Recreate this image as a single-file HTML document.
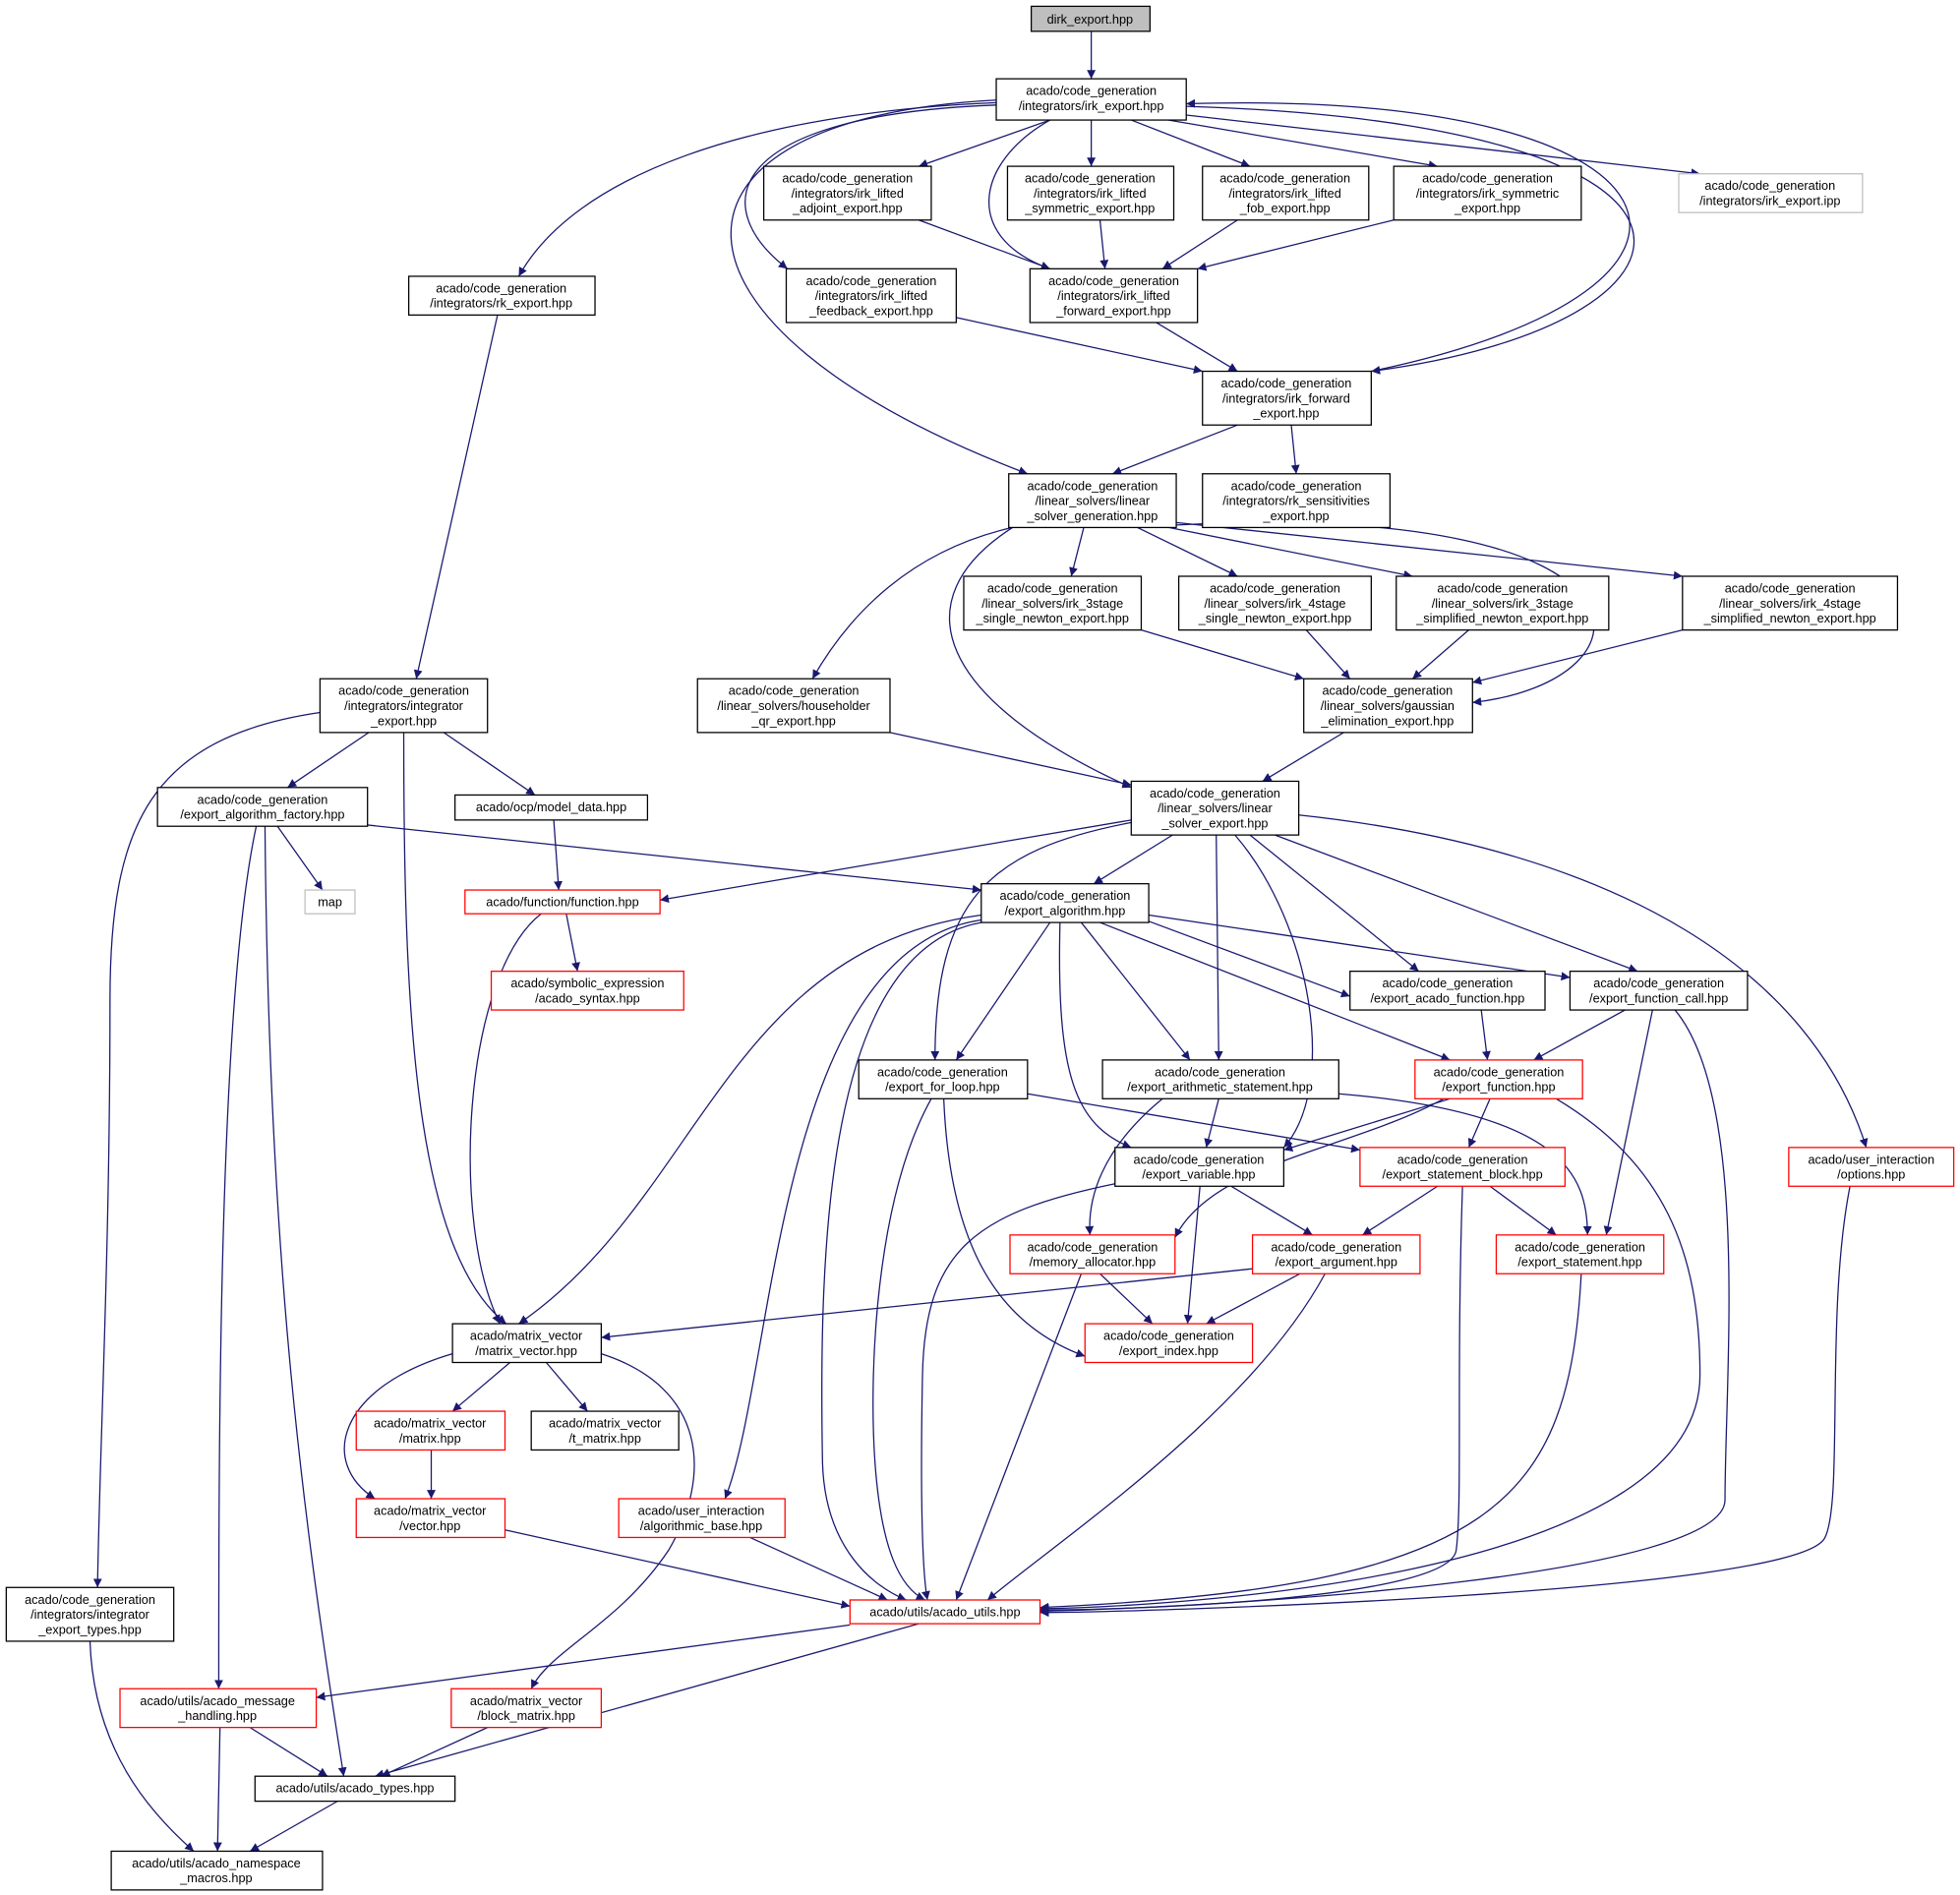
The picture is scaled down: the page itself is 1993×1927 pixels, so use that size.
<!DOCTYPE html>
<html><head><meta charset="utf-8"><style>
html,body{margin:0;padding:0;background:#fff;}
svg{display:block;}
text{font-family:"Liberation Sans","DejaVu Sans",sans-serif;font-size:10px;fill:#000;text-anchor:middle;}
.n{fill:#fff;stroke:#000;stroke-width:1;}
.r{fill:#fff;stroke:#f00;stroke-width:1;}
.g{fill:#fff;stroke:#bfbfbf;stroke-width:1;}
.e{fill:none;stroke:#191970;stroke-width:1;marker-end:url(#a);}
</style></head><body>
<svg width="1993" height="1927" viewBox="0 0 1568 1516" xmlns="http://www.w3.org/2000/svg">
<defs><marker id="a" viewBox="0 0 10 10" refX="10" refY="5" markerWidth="7" markerHeight="7" orient="auto" markerUnits="userSpaceOnUse"><path d="M0,0 L10,5 L0,10 z" fill="#191970"/></marker></defs>

<g>
<path class="e" d="M873,25 L873,63"/>
<path class="e" d="M840,96 L735,133"/>
<path class="e" d="M873,96 L873,133"/>
<path class="e" d="M905,96 L1000,133"/>
<path class="e" d="M935,96 L1150,133"/>
<path class="e" d="M949,92 L1360,139"/>
<path class="e" d="M800,82 C600,90 460,140 415,221"/>
<path class="e" d="M797,84 C580,92 565,165 630,215"/>
<path class="e" d="M840,96 C780,130 770,190 840,215"/>
<path class="e" d="M949,85 C1420,100 1380,260 1097,297"/>
<path class="e" d="M1097,297 C1420,230 1360,70 949,83"/>
<path class="e" d="M797,80 C510,95 510,260 822,379"/>
<path class="e" d="M735,176 L840,215"/>
<path class="e" d="M880,176 L884,215"/>
<path class="e" d="M990,176 L930,215"/>
<path class="e" d="M1115,176 L958,215"/>
<path class="e" d="M765,254 L962,297"/>
<path class="e" d="M925,258 L990,297"/>
<path class="e" d="M990,340 L890,379"/>
<path class="e" d="M1033,340 L1037,379"/>
<path class="e" d="M867,422 L857,461"/>
<path class="e" d="M910,422 L990,461"/>
<path class="e" d="M935,422 L1130,461"/>
<path class="e" d="M941,418 L1346,461"/>
<path class="e" d="M810,422 C730,440 680,490 650,543"/>
<path class="e" d="M941,420 C1340,400 1330,545 1178,562"/>
<path class="e" d="M810,422 C720,480 750,560 905,630"/>
<path class="e" d="M913,504 L1043,543"/>
<path class="e" d="M1045,504 L1080,543"/>
<path class="e" d="M1175,504 L1130,543"/>
<path class="e" d="M1346,504 L1178,546"/>
<path class="e" d="M712,586 L905,628"/>
<path class="e" d="M1075,586 L1010,625"/>
<path class="e" d="M398,252 L333,543"/>
<path class="e" d="M256,570 C120,590 88,660 88,800 C88,1000 80,1150 78,1270"/>
<path class="e" d="M295,586 L230,630"/>
<path class="e" d="M355,586 L428,636"/>
<path class="e" d="M323,586 C323,800 330,1000 405,1059"/>
<path class="e" d="M222,661 L258,712"/>
<path class="e" d="M294,660 L785,712"/>
<path class="e" d="M205,661 C175,800 175,1150 175,1351"/>
<path class="e" d="M212,661 C215,1000 240,1200 275,1421"/>
<path class="e" d="M443,656 L447,712"/>
<path class="e" d="M905,656 L528,720"/>
<path class="e" d="M938,668 L875,707"/>
<path class="e" d="M905,658 C790,680 748,720 748,848"/>
<path class="e" d="M973,668 L975,848"/>
<path class="e" d="M988,668 C1050,740 1070,870 1027,918"/>
<path class="e" d="M1000,668 L1135,777"/>
<path class="e" d="M1020,668 L1310,777"/>
<path class="e" d="M1039,652 C1300,680 1450,780 1493,918"/>
<path class="e" d="M433,731 C370,780 360,980 400,1059"/>
<path class="e" d="M453,731 L462,777"/>
<path class="e" d="M785,732 C580,760 560,960 415,1059"/>
<path class="e" d="M785,736 C620,760 620,1100 580,1199"/>
<path class="e" d="M785,738 C660,760 655,1000 658,1170 C660,1240 700,1270 725,1280"/>
<path class="e" d="M840,738 L765,848"/>
<path class="e" d="M848,738 C845,860 860,900 905,918"/>
<path class="e" d="M865,738 L952,848"/>
<path class="e" d="M880,738 L1160,848"/>
<path class="e" d="M919,737 L1080,797"/>
<path class="e" d="M919,732 L1256,782"/>
<path class="e" d="M1185,808 L1190,848"/>
<path class="e" d="M1300,808 L1227,848"/>
<path class="e" d="M1322,808 L1285,988"/>
<path class="e" d="M1340,808 C1400,880 1380,1100 1380,1200 C1380,1260 1000,1285 832,1289"/>
<path class="e" d="M822,875 L1088,920"/>
<path class="e" d="M745,879 C700,960 695,1100 700,1170 C705,1240 720,1270 740,1280"/>
<path class="e" d="M755,879 C760,1000 800,1060 868,1085"/>
<path class="e" d="M975,879 L965,918"/>
<path class="e" d="M930,879 C880,920 870,960 872,988"/>
<path class="e" d="M1071,875 C1250,890 1270,940 1270,988"/>
<path class="e" d="M1160,879 L1027,920"/>
<path class="e" d="M1192,879 L1175,918"/>
<path class="e" d="M1155,879 C1080,920 970,930 940,990"/>
<path class="e" d="M1245,879 C1330,930 1360,1000 1360,1100 C1360,1270 900,1286 832,1287"/>
<path class="e" d="M985,949 L1050,988"/>
<path class="e" d="M960,949 L950,1059"/>
<path class="e" d="M892,947 C780,970 740,1000 738,1100 C736,1200 738,1260 742,1280"/>
<path class="e" d="M1150,949 L1090,988"/>
<path class="e" d="M1192,949 L1245,988"/>
<path class="e" d="M1170,949 C1165,1100 1170,1200 1165,1240 C1160,1280 900,1288 832,1288"/>
<path class="e" d="M1480,949 C1460,1050 1475,1200 1460,1230 C1440,1275 900,1290 832,1290"/>
<path class="e" d="M880,1019 L922,1059"/>
<path class="e" d="M865,1019 L765,1280"/>
<path class="e" d="M1040,1019 L965,1059"/>
<path class="e" d="M1002,1015 L481,1070"/>
<path class="e" d="M1060,1019 C1000,1130 850,1230 790,1280"/>
<path class="e" d="M1265,1019 C1255,1200 1200,1270 832,1286"/>
<path class="e" d="M408,1090 L362,1129"/>
<path class="e" d="M437,1090 L470,1129"/>
<path class="e" d="M362,1083 C270,1110 255,1170 300,1199"/>
<path class="e" d="M481,1083 C565,1110 570,1180 535,1240 C495,1300 440,1320 425,1351"/>
<path class="e" d="M345,1160 L345,1199"/>
<path class="e" d="M404,1224 L680,1285"/>
<path class="e" d="M600,1230 L710,1280"/>
<path class="e" d="M680,1300 L253,1358"/>
<path class="e" d="M735,1299 L300,1421"/>
<path class="e" d="M200,1382 L262,1421"/>
<path class="e" d="M176,1382 L174,1481"/>
<path class="e" d="M390,1382 L305,1421"/>
<path class="e" d="M270,1441 L200,1481"/>
<path class="e" d="M72,1313 C75,1400 120,1450 155,1481"/>
</g>

<g>
<rect x="825" y="5" width="95" height="20" fill="#bfbfbf" stroke="#000"/><text x="872" y="19">dirk_export.hpp</text>
<rect class="n" x="797" y="63" width="152" height="33"/><text x="873" y="76">acado/code_generation</text><text x="873" y="88">/integrators/irk_export.hpp</text>
<rect class="n" x="611" y="133" width="134" height="43"/><text x="678" y="146">acado/code_generation</text><text x="678" y="158">/integrators/irk_lifted</text><text x="678" y="170">_adjoint_export.hpp</text>
<rect class="n" x="806" y="133" width="133" height="43"/><text x="872" y="146">acado/code_generation</text><text x="872" y="158">/integrators/irk_lifted</text><text x="872" y="170">_symmetric_export.hpp</text>
<rect class="n" x="962" y="133" width="133" height="43"/><text x="1028" y="146">acado/code_generation</text><text x="1028" y="158">/integrators/irk_lifted</text><text x="1028" y="170">_fob_export.hpp</text>
<rect class="n" x="1115" y="133" width="150" height="43"/><text x="1190" y="146">acado/code_generation</text><text x="1190" y="158">/integrators/irk_symmetric</text><text x="1190" y="170">_export.hpp</text>
<rect class="g" x="1343" y="139" width="147" height="31"/><text x="1416" y="152">acado/code_generation</text><text x="1416" y="164">/integrators/irk_export.ipp</text>
<rect class="n" x="327" y="221" width="149" height="31"/><text x="401" y="234">acado/code_generation</text><text x="401" y="246">/integrators/rk_export.hpp</text>
<rect class="n" x="629" y="215" width="136" height="43"/><text x="697" y="228">acado/code_generation</text><text x="697" y="240">/integrators/irk_lifted</text><text x="697" y="252">_feedback_export.hpp</text>
<rect class="n" x="824" y="215" width="134" height="43"/><text x="891" y="228">acado/code_generation</text><text x="891" y="240">/integrators/irk_lifted</text><text x="891" y="252">_forward_export.hpp</text>
<rect class="n" x="962" y="297" width="135" height="43"/><text x="1029" y="310">acado/code_generation</text><text x="1029" y="322">/integrators/irk_forward</text><text x="1029" y="334">_export.hpp</text>
<rect class="n" x="807" y="379" width="134" height="43"/><text x="874" y="392">acado/code_generation</text><text x="874" y="404">/linear_solvers/linear</text><text x="874" y="416">_solver_generation.hpp</text>
<rect class="n" x="962" y="379" width="150" height="43"/><text x="1037" y="392">acado/code_generation</text><text x="1037" y="404">/integrators/rk_sensitivities</text><text x="1037" y="416">_export.hpp</text>
<rect class="n" x="771" y="461" width="142" height="43"/><text x="842" y="474">acado/code_generation</text><text x="842" y="486">/linear_solvers/irk_3stage</text><text x="842" y="498">_single_newton_export.hpp</text>
<rect class="n" x="943" y="461" width="154" height="43"/><text x="1020" y="474">acado/code_generation</text><text x="1020" y="486">/linear_solvers/irk_4stage</text><text x="1020" y="498">_single_newton_export.hpp</text>
<rect class="n" x="1117" y="461" width="170" height="43"/><text x="1202" y="474">acado/code_generation</text><text x="1202" y="486">/linear_solvers/irk_3stage</text><text x="1202" y="498">_simplified_newton_export.hpp</text>
<rect class="n" x="1346" y="461" width="172" height="43"/><text x="1432" y="474">acado/code_generation</text><text x="1432" y="486">/linear_solvers/irk_4stage</text><text x="1432" y="498">_simplified_newton_export.hpp</text>
<rect class="n" x="256" y="543" width="134" height="43"/><text x="323" y="556">acado/code_generation</text><text x="323" y="568">/integrators/integrator</text><text x="323" y="580">_export.hpp</text>
<rect class="n" x="558" y="543" width="154" height="43"/><text x="635" y="556">acado/code_generation</text><text x="635" y="568">/linear_solvers/householder</text><text x="635" y="580">_qr_export.hpp</text>
<rect class="n" x="1043" y="543" width="135" height="43"/><text x="1110" y="556">acado/code_generation</text><text x="1110" y="568">/linear_solvers/gaussian</text><text x="1110" y="580">_elimination_export.hpp</text>
<rect class="n" x="126" y="630" width="168" height="31"/><text x="210" y="643">acado/code_generation</text><text x="210" y="655">/export_algorithm_factory.hpp</text>
<rect class="n" x="364" y="636" width="154" height="20"/><text x="441" y="649">acado/ocp/model_data.hpp</text>
<rect class="n" x="905" y="625" width="134" height="43"/><text x="972" y="638">acado/code_generation</text><text x="972" y="650">/linear_solvers/linear</text><text x="972" y="662">_solver_export.hpp</text>
<rect class="g" x="244" y="712" width="40" height="19"/><text x="264" y="725">map</text>
<rect class="r" x="372" y="712" width="156" height="19"/><text x="450" y="725">acado/function/function.hpp</text>
<rect class="n" x="785" y="707" width="134" height="31"/><text x="852" y="720">acado/code_generation</text><text x="852" y="732">/export_algorithm.hpp</text>
<rect class="r" x="393" y="777" width="154" height="31"/><text x="470" y="790">acado/symbolic_expression</text><text x="470" y="802">/acado_syntax.hpp</text>
<rect class="n" x="1080" y="777" width="156" height="31"/><text x="1158" y="790">acado/code_generation</text><text x="1158" y="802">/export_acado_function.hpp</text>
<rect class="n" x="1256" y="777" width="142" height="31"/><text x="1327" y="790">acado/code_generation</text><text x="1327" y="802">/export_function_call.hpp</text>
<rect class="n" x="687" y="848" width="135" height="31"/><text x="754" y="861">acado/code_generation</text><text x="754" y="873">/export_for_loop.hpp</text>
<rect class="n" x="882" y="848" width="189" height="31"/><text x="976" y="861">acado/code_generation</text><text x="976" y="873">/export_arithmetic_statement.hpp</text>
<rect class="r" x="1132" y="848" width="134" height="31"/><text x="1199" y="861">acado/code_generation</text><text x="1199" y="873">/export_function.hpp</text>
<rect class="n" x="892" y="918" width="135" height="31"/><text x="959" y="931">acado/code_generation</text><text x="959" y="943">/export_variable.hpp</text>
<rect class="r" x="1088" y="918" width="164" height="31"/><text x="1170" y="931">acado/code_generation</text><text x="1170" y="943">/export_statement_block.hpp</text>
<rect class="r" x="1431" y="918" width="132" height="31"/><text x="1497" y="931">acado/user_interaction</text><text x="1497" y="943">/options.hpp</text>
<rect class="r" x="808" y="988" width="132" height="31"/><text x="874" y="1001">acado/code_generation</text><text x="874" y="1013">/memory_allocator.hpp</text>
<rect class="r" x="1002" y="988" width="134" height="31"/><text x="1069" y="1001">acado/code_generation</text><text x="1069" y="1013">/export_argument.hpp</text>
<rect class="r" x="1197" y="988" width="134" height="31"/><text x="1264" y="1001">acado/code_generation</text><text x="1264" y="1013">/export_statement.hpp</text>
<rect class="n" x="362" y="1059" width="119" height="31"/><text x="421" y="1072">acado/matrix_vector</text><text x="421" y="1084">/matrix_vector.hpp</text>
<rect class="r" x="868" y="1059" width="134" height="31"/><text x="935" y="1072">acado/code_generation</text><text x="935" y="1084">/export_index.hpp</text>
<rect class="r" x="285" y="1129" width="119" height="31"/><text x="344" y="1142">acado/matrix_vector</text><text x="344" y="1154">/matrix.hpp</text>
<rect class="n" x="425" y="1129" width="118" height="31"/><text x="484" y="1142">acado/matrix_vector</text><text x="484" y="1154">/t_matrix.hpp</text>
<rect class="r" x="285" y="1199" width="119" height="31"/><text x="344" y="1212">acado/matrix_vector</text><text x="344" y="1224">/vector.hpp</text>
<rect class="r" x="495" y="1199" width="133" height="31"/><text x="561" y="1212">acado/user_interaction</text><text x="561" y="1224">/algorithmic_base.hpp</text>
<rect class="n" x="5" y="1270" width="134" height="43"/><text x="72" y="1283">acado/code_generation</text><text x="72" y="1295">/integrators/integrator</text><text x="72" y="1307">_export_types.hpp</text>
<rect class="r" x="680" y="1280" width="152" height="19"/><text x="756" y="1293">acado/utils/acado_utils.hpp</text>
<rect class="r" x="96" y="1351" width="157" height="31"/><text x="174" y="1364">acado/utils/acado_message</text><text x="174" y="1376">_handling.hpp</text>
<rect class="r" x="361" y="1351" width="120" height="31"/><text x="421" y="1364">acado/matrix_vector</text><text x="421" y="1376">/block_matrix.hpp</text>
<rect class="n" x="204" y="1421" width="160" height="20"/><text x="284" y="1434">acado/utils/acado_types.hpp</text>
<rect class="n" x="89" y="1481" width="169" height="31"/><text x="173" y="1494">acado/utils/acado_namespace</text><text x="173" y="1506">_macros.hpp</text>
</g>
</svg>
</body></html>
